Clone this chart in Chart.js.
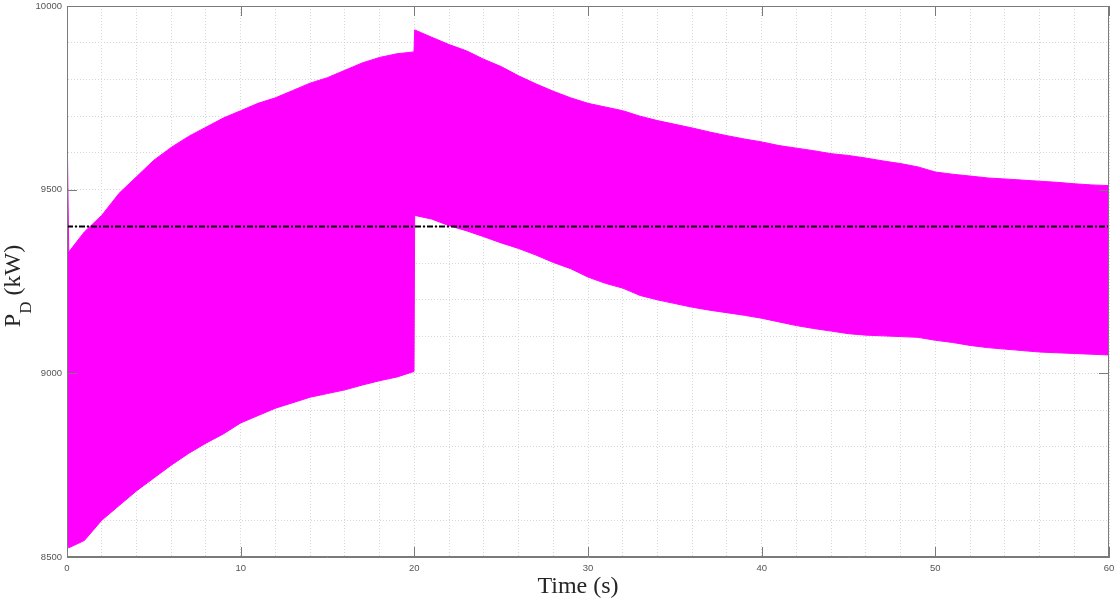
<!DOCTYPE html>
<html>
<head>
<meta charset="utf-8">
<script src="https://cdn.jsdelivr.net/npm/chart.js@4.4.0/dist/chart.umd.min.js"></script>
<style>
  html, body { margin: 0; padding: 0; background: #fff; }
  #wrap { width: 1115px; height: 599px; }
</style>
</head>
<body>
<div id="wrap"><canvas id="pdChart"></canvas></div>
<script>
// waktu (s) dan selubung atas / bawah sinyal P_D (kW)
const waktu = [0, 0.1, 1, 2, 3, 4, 5, 6, 7, 8, 9, 10, 11, 12, 13, 14, 15, 16, 17, 18, 19, 19.98,
  20.02, 21, 22, 23, 24, 25, 26, 27, 28, 29, 30, 31, 32, 33, 34, 35, 36, 37, 38, 39, 40,
  41, 42, 43, 44, 45, 46, 47, 48, 49, 50, 51, 52, 53, 54, 55, 56, 57, 58, 59, 60];
const pdAtas = [9690, 9330, 9385, 9430, 9490, 9535, 9580, 9615, 9645, 9670, 9695, 9715, 9735, 9750, 9770, 9790, 9805, 9825, 9845, 9860, 9870, 9875,
  9935, 9915, 9895, 9878, 9855, 9835, 9810, 9788, 9768, 9750, 9735, 9725, 9715, 9700, 9688, 9678, 9668, 9657, 9647, 9638, 9630,
  9620, 9613, 9606, 9598, 9593, 9586, 9578, 9571, 9562, 9548, 9542, 9537, 9532, 9529, 9526, 9523, 9520, 9516, 9513, 9511];
const pdBawah = [8540, 8525, 8545, 8600, 8640, 8680, 8715, 8750, 8782, 8810, 8835, 8865, 8885, 8905, 8920, 8935, 8945, 8955, 8968, 8980, 8990, 9005,
  9430, 9420, 9402, 9388, 9372, 9355, 9340, 9322, 9302, 9285, 9262, 9245, 9232, 9212, 9200, 9190, 9180, 9172, 9165, 9158, 9150,
  9140, 9130, 9122, 9115, 9108, 9104, 9102, 9100, 9098, 9090, 9084, 9076, 9070, 9066, 9062, 9058, 9056, 9054, 9052, 9050];
const waktuRef = [0, 60];
const pdRef = [9400, 9400];
const labelX = [0, 10, 20, 30, 40, 50, 60];
const labelY = [8500, 9000, 9500, 10000];

const magenta = '#ff00ff';
const fontSerif = '"Liberation Serif", "DejaVu Serif", serif';

// judul sumbu, kotak dan tick ke dalam ala MATLAB
const gayaMatlab = {
  id: 'gayaMatlab',
  afterDatasetsDraw(chart) {
    const { ctx, chartArea: a, scales } = chart;
    ctx.save();
    ctx.strokeStyle = '#7a7a7a';
    ctx.lineWidth = 1;
    ctx.strokeRect(a.left + 0.5, a.top + 0.5, a.right - a.left - 1, a.bottom - a.top - 1);
    ctx.beginPath();
    labelX.forEach(v => {
      const px = Math.round(scales.x.getPixelForValue(v)) + 0.5;
      ctx.moveTo(px, a.bottom); ctx.lineTo(px, a.bottom - 10);
      ctx.moveTo(px, a.top); ctx.lineTo(px, a.top + 10);
    });
    labelY.forEach(v => {
      const py = Math.round(scales.y.getPixelForValue(v)) + 0.5;
      ctx.moveTo(a.left, py); ctx.lineTo(a.left + 10, py);
      ctx.moveTo(a.right, py); ctx.lineTo(a.right - 10, py);
    });
    ctx.stroke();
    ctx.restore();
  },
  afterDraw(chart) {
    const { ctx } = chart;
    ctx.save();
    ctx.fillStyle = '#262626';
    ctx.textBaseline = 'alphabetic';
    // sumbu x
    ctx.font = '24px ' + fontSerif;
    ctx.textAlign = 'center';
    ctx.fillText('Time (s)', 578, 593);
    // sumbu y: P dengan subskrip D
    ctx.translate(20, 286);
    ctx.rotate(-Math.PI / 2);
    ctx.textAlign = 'left';
    ctx.font = '24px ' + fontSerif;
    const wP = ctx.measureText('P').width;
    const wK = ctx.measureText(' (kW)').width;
    ctx.font = '17px ' + fontSerif;
    const wD = ctx.measureText('D').width;
    let x0 = -(wP + wD + wK) / 2;
    ctx.font = '24px ' + fontSerif;
    ctx.fillText('P', x0, 0);
    ctx.font = '17px ' + fontSerif;
    ctx.fillText('D', x0 + wP, 11);
    ctx.font = '24px ' + fontSerif;
    ctx.fillText(' (kW)', x0 + wP + wD, 0);
    ctx.restore();
  }
};

const ctx = document.getElementById('pdChart');

new Chart(ctx, {
  type: 'line',
  data: {
    datasets: [
      {
        label: 'ref',
        data: waktuRef.map((t, i) => ({ x: t, y: pdRef[i] })),
        borderColor: '#000',
        borderWidth: 2,
        borderDash: [6, 2, 2, 2],
        pointRadius: 0,
        fill: false,
        order: 0
      },
      {
        label: 'atas',
        data: waktu.map((t, i) => ({ x: t, y: pdAtas[i] })),
        borderColor: magenta,
        backgroundColor: magenta,
        borderWidth: 1,
        pointRadius: 0,
        tension: 0,
        fill: '+1',
        order: 1
      },
      {
        label: 'bawah',
        data: waktu.map((t, i) => ({ x: t, y: pdBawah[i] })),
        borderColor: magenta,
        backgroundColor: magenta,
        borderWidth: 1,
        pointRadius: 0,
        tension: 0,
        fill: false,
        order: 2
      }
    ]
  },
  options: {
    responsive: true,
    maintainAspectRatio: false,
    animation: false,
    devicePixelRatio: 1,
    layout: { padding: { left: 0, right: 6, top: 6, bottom: 0 } },
    scales: {
      x: {
        type: 'linear',
        min: 0,
        max: 60,
        afterFit: s => { s.height = 42; s.paddingLeft = 0; s.paddingRight = 0; },
        ticks: {
          stepSize: 2,
          autoSkip: false,
          maxRotation: 0,
          padding: 6,
          color: '#555',
          font: { family: '"Liberation Sans", Arial, sans-serif', size: 9.5 },
          callback: v => (labelX.includes(v) ? v : '')
        },
        grid: { color: '#d6d6d6', drawTicks: false },
        border: { color: '#7a7a7a', dash: [1, 2] }
      },
      y: {
        min: 8500,
        max: 10000,
        afterFit: s => { s.width = 67; s.paddingTop = 0; s.paddingBottom = 0; },
        ticks: {
          stepSize: 100,
          autoSkip: false,
          padding: 5,
          color: '#555',
          font: { family: '"Liberation Sans", Arial, sans-serif', size: 9.5 },
          callback: v => (labelY.includes(v) ? v : '')
        },
        grid: { color: '#d6d6d6', drawTicks: false },
        border: { color: '#7a7a7a', dash: [1, 2] }
      }
    },
    plugins: {
      legend: { display: false },
      tooltip: { enabled: false }
    }
  },
  plugins: [gayaMatlab]
});
</script>
</body>
</html>
